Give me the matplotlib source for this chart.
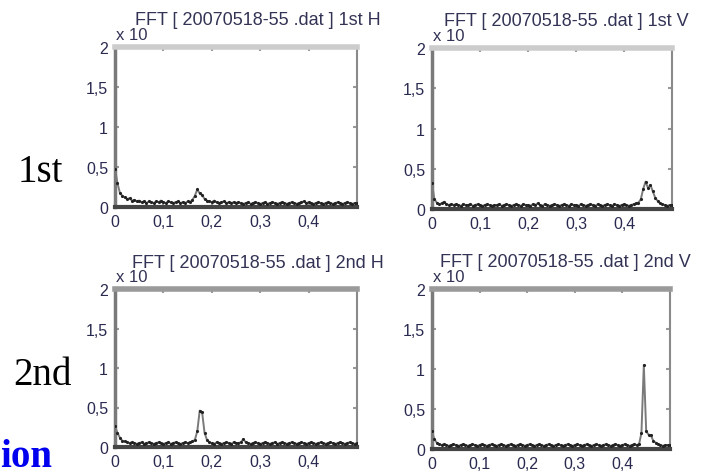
import matplotlib
matplotlib.use("Agg")
import matplotlib.pyplot as plt

W, H = 704, 477

freq = [
    0.000, 0.005, 0.010, 0.015, 0.020, 0.025, 0.030, 0.035, 0.040, 0.045,
    0.050, 0.055, 0.060, 0.065, 0.070, 0.075, 0.080, 0.085, 0.090, 0.095,
    0.100, 0.105, 0.110, 0.115, 0.120, 0.125, 0.130, 0.135, 0.140, 0.145,
    0.150, 0.155, 0.160, 0.165, 0.170, 0.175, 0.180, 0.185, 0.190, 0.195,
    0.200, 0.205, 0.210, 0.215, 0.220, 0.225, 0.230, 0.235, 0.240, 0.245,
    0.250, 0.255, 0.260, 0.265, 0.270, 0.275, 0.280, 0.285, 0.290, 0.295,
    0.300, 0.305, 0.310, 0.315, 0.320, 0.325, 0.330, 0.335, 0.340, 0.345,
    0.350, 0.355, 0.360, 0.365, 0.370, 0.375, 0.380, 0.385, 0.390, 0.395,
    0.400, 0.405, 0.410, 0.415, 0.420, 0.425, 0.430, 0.435, 0.440, 0.445,
    0.450, 0.455, 0.460, 0.465, 0.470, 0.475, 0.480, 0.485, 0.490, 0.495,
    0.500,
]

amp_1st_h = [
    0.48, 0.30, 0.18, 0.14, 0.12, 0.10, 0.11, 0.08, 0.09, 0.07,
    0.08, 0.06, 0.07, 0.05, 0.07, 0.06, 0.05, 0.07, 0.06, 0.08,
    0.06, 0.05, 0.07, 0.06, 0.05, 0.06, 0.07, 0.05, 0.06, 0.05,
    0.07, 0.06, 0.09, 0.14, 0.22, 0.17, 0.15, 0.10, 0.08, 0.07,
    0.06, 0.08, 0.06, 0.05, 0.06, 0.07, 0.05, 0.06, 0.05, 0.06,
    0.05, 0.06, 0.05, 0.04, 0.05, 0.06, 0.04, 0.05, 0.06, 0.05,
    0.04, 0.05, 0.06, 0.04, 0.05, 0.06, 0.05, 0.04, 0.05, 0.06,
    0.05, 0.04, 0.05, 0.06, 0.05, 0.04, 0.05, 0.06, 0.07, 0.05,
    0.06, 0.05, 0.04, 0.05, 0.06, 0.05, 0.04, 0.05, 0.06, 0.05,
    0.04, 0.05, 0.06, 0.05, 0.04, 0.05, 0.06, 0.05, 0.04, 0.05,
    0.05,
]

amp_1st_v = [
    0.32, 0.12, 0.08, 0.06, 0.07, 0.09, 0.06, 0.05, 0.06, 0.05,
    0.06, 0.05, 0.04, 0.06, 0.05, 0.05, 0.06, 0.04, 0.05, 0.06,
    0.05, 0.04, 0.05, 0.06, 0.05, 0.04, 0.05, 0.05, 0.06, 0.04,
    0.05, 0.06, 0.05, 0.04, 0.05, 0.06, 0.05, 0.04, 0.06, 0.05,
    0.05, 0.04, 0.06, 0.05, 0.07, 0.05, 0.04, 0.06, 0.05, 0.04,
    0.05, 0.06, 0.05, 0.04, 0.05, 0.06, 0.05, 0.04, 0.06, 0.05,
    0.05, 0.04, 0.06, 0.05, 0.04, 0.05, 0.06, 0.05, 0.04, 0.06,
    0.05, 0.04, 0.05, 0.06, 0.05, 0.04, 0.06, 0.05, 0.04, 0.05,
    0.06, 0.05, 0.04, 0.05, 0.06, 0.07, 0.08, 0.12, 0.25, 0.34,
    0.26, 0.30, 0.22, 0.14, 0.10, 0.07, 0.06, 0.05, 0.04, 0.05,
    0.05,
]

amp_2nd_h = [
    0.26, 0.18, 0.12, 0.08, 0.07, 0.06, 0.05, 0.06, 0.05, 0.04,
    0.05, 0.06, 0.04, 0.05, 0.06, 0.05, 0.04, 0.05, 0.06, 0.05,
    0.04, 0.05, 0.06, 0.04, 0.05, 0.06, 0.05, 0.04, 0.05, 0.06,
    0.05, 0.06, 0.07, 0.09, 0.20, 0.46, 0.44, 0.18, 0.09, 0.06,
    0.05, 0.04, 0.06, 0.05, 0.04, 0.05, 0.06, 0.05, 0.04, 0.06,
    0.05, 0.05, 0.06, 0.10, 0.06, 0.05, 0.04, 0.05, 0.06, 0.05,
    0.04, 0.05, 0.06, 0.05, 0.04, 0.05, 0.06, 0.04, 0.05, 0.06,
    0.05, 0.04, 0.05, 0.06, 0.05, 0.04, 0.05, 0.06, 0.05, 0.04,
    0.05, 0.06, 0.05, 0.04, 0.05, 0.06, 0.05, 0.04, 0.05, 0.06,
    0.05, 0.04, 0.05, 0.06, 0.05, 0.04, 0.05, 0.06, 0.05, 0.04,
    0.05,
]

amp_2nd_v = [
    0.22, 0.12, 0.08, 0.06, 0.05, 0.06, 0.05, 0.04, 0.05, 0.06,
    0.05, 0.04, 0.05, 0.06, 0.05, 0.04, 0.05, 0.06, 0.05, 0.04,
    0.05, 0.06, 0.05, 0.04, 0.05, 0.06, 0.05, 0.04, 0.05, 0.06,
    0.05, 0.04, 0.05, 0.06, 0.05, 0.04, 0.05, 0.06, 0.05, 0.04,
    0.05, 0.06, 0.05, 0.04, 0.05, 0.06, 0.05, 0.04, 0.05, 0.06,
    0.05, 0.04, 0.05, 0.06, 0.05, 0.04, 0.05, 0.06, 0.05, 0.04,
    0.05, 0.06, 0.05, 0.04, 0.05, 0.06, 0.05, 0.04, 0.05, 0.06,
    0.05, 0.04, 0.05, 0.06, 0.05, 0.04, 0.05, 0.06, 0.05, 0.04,
    0.05, 0.06, 0.05, 0.04, 0.05, 0.06, 0.05, 0.06, 0.20, 1.05,
    0.22, 0.18, 0.17, 0.10, 0.08, 0.06, 0.05, 0.04, 0.05, 0.05,
    0.05,
]

titles = [
    "FFT [ 20070518-55 .dat ] 1st H",
    "FFT [ 20070518-55 .dat ] 1st V",
    "FFT [ 20070518-55 .dat ] 2nd H",
    "FFT [ 20070518-55 .dat ] 2nd V",
]
series = [amp_1st_h, amp_1st_v, amp_2nd_h, amp_2nd_v]

x_ticks = [0, 0.1, 0.2, 0.3, 0.4]
x_tick_labels = ["0", "0,1", "0,2", "0,3", "0,4"]
y_ticks = [0, 0.5, 1, 1.5, 2]
y_tick_labels = ["0", "0,5", "1", "1,5", "2"]
row_labels = ["1st", "2nd"]

# axes boxes in pixels: left, top, right, bottom
boxes = [
    (115, 48, 357, 208),
    (432, 49, 672, 210),
    (115, 290, 357, 448),
    (432, 290, 670, 450),
]

fig = plt.figure(figsize=(W / 100, H / 100), dpi=100)
fig.patch.set_facecolor("white")

for i, (box, vals, title) in enumerate(zip(boxes, series, titles)):
    l, t, r, b = box
    ax = fig.add_axes([l / W, 1 - b / H, (r - l) / W, (b - t) / H])
    ax.plot(freq, vals, color="#7a7a7a", lw=1.4, marker=".", ms=2.5,
            mfc="#222222", mec="#222222", zorder=3)
    ax.set_xlim(0, 0.5)
    ax.set_ylim(0, 2)
    ax.set_xticks(x_ticks)
    ax.set_xticklabels(x_tick_labels)
    ax.set_yticks(y_ticks)
    ax.set_yticklabels(y_tick_labels)
    top_row = i < 2
    ax.tick_params(direction="in", length=3, width=1.5, top=True, right=True,
                   colors="#999999", labelcolor="#2a2a50", labelsize=11.5, pad=5)
    for lab in ax.get_xticklabels() + ax.get_yticklabels():
        lab.set_fontfamily("Liberation Sans")
    ax.spines["top"].set_color("#cccccc" if top_row else "#9a9a9a")
    ax.spines["top"].set_linewidth(4)
    ax.spines["left"].set_color("#7a7a7a")
    ax.spines["left"].set_linewidth(2.5)
    ax.spines["right"].set_color("#8a8a8a")
    ax.spines["right"].set_linewidth(1.5)
    ax.spines["bottom"].set_color("#444444")
    ax.spines["bottom"].set_linewidth(3)
    ax.text(0.59 if i % 2 == 0 else 0.56, 1.17, title, transform=ax.transAxes,
            ha="center", va="center", fontsize=13, color="#333355",
            family="Liberation Sans")
    ax.text(0.005, 1.08, "x 10", transform=ax.transAxes, ha="left",
            va="center", fontsize=12, color="#333355", family="Liberation Sans")

fig.text(18 / W, 1 - 182 / H, row_labels[0], fontsize=28, family="Liberation Serif",
         color="black", ha="left", va="baseline")
fig.text(13 / W, 1 - 385 / H, row_labels[1], fontsize=28, family="Liberation Serif",
         color="black", ha="left", va="baseline")
fig.text(0 / W, 1 - 476 / H, "ion", fontsize=28, family="Liberation Serif",
         fontweight="bold", color="#0000ee", ha="left", va="bottom")

fig.savefig("out.png", dpi=100, facecolor="white")
